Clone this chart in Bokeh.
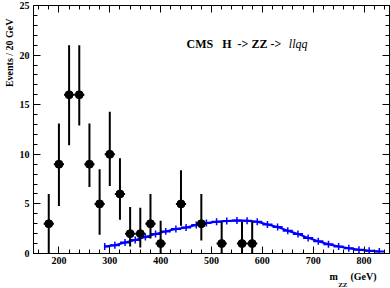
import numpy as np
from bokeh.plotting import figure
from bokeh.models import Range1d, LinearAxis, Label, Title, FixedTicker
from bokeh.embed import file_html
from bokeh.resources import INLINE

# ---- data ----
data_x = [180, 200, 220, 240, 260, 280, 300, 320, 340, 360, 380, 400, 440, 480, 520, 560, 580]
data_y = [3, 9, 16, 16, 9, 5, 10, 6, 2, 2, 3, 1, 5, 3, 1, 1, 1]
data_lo = [0, 4.8, 10.9, 12.9, 6.7, 1.9, 6.8, 3.4, 0.7, 0.6, 1.5, 0, 2.8, 1.3, 0, 0, 0]
data_hi = [6.0, 13.1, 21.0, 21.0, 13.1, 8.5, 14.3, 9.6, 4.7, 4.6, 6.0, 3.3, 8.4, 6.0, 3.2, 3.2, 3.2]
bin_half = 10

sig_x = [290, 310, 330, 350, 370, 390, 410, 430, 450, 470, 490, 510, 530, 550,
         570, 590, 610, 630, 650, 670, 690, 710, 730, 750, 770, 790, 810, 830]
sig_y = [0.7, 0.83, 1.1, 1.37, 1.67, 1.97, 2.23, 2.47, 2.63, 2.87, 3.07, 3.2, 3.27, 3.33,
         3.3, 3.2, 2.93, 2.67, 2.3, 1.97, 1.57, 1.23, 0.93, 0.7, 0.53, 0.37, 0.27, 0.2]
sig_err = 0.35

x_ticks = [200, 300, 400, 500, 600, 700, 800]
y_ticks = [0, 5, 10, 15, 20, 25]

FONT = "Liberation Serif"
NB = "\u00a0"

p = figure(width=390, height=288, output_backend="svg", toolbar_location=None,
           x_range=Range1d(150, 850), y_range=Range1d(0, 25),
           min_border_left=33, min_border_right=1, min_border_top=5, min_border_bottom=35,
           background_fill_color="white", border_fill_color="white")
p.outline_line_color = "black"
p.outline_line_width = 1
p.grid.visible = False

def style_axis(ax, ticks, minor, labels=True):
    ax.ticker = FixedTicker(ticks=ticks, minor_ticks=minor)
    ax.major_tick_in = 7
    ax.major_tick_out = 0
    ax.minor_tick_in = 4
    ax.minor_tick_out = 0
    ax.axis_line_color = "black"
    ax.major_tick_line_color = "black"
    ax.minor_tick_line_color = "black"
    ax.major_label_text_font = FONT
    ax.major_label_text_font_style = "bold"
    ax.major_label_text_font_size = "10px"
    ax.major_label_text_color = "black"
    if not labels:
        ax.major_label_text_alpha = 0
        ax.major_label_text_font_size = "1px"
        ax.major_label_standoff = 0

x_minor = list(range(160, 851, 20))
y_minor = list(range(0, 26, 1))
style_axis(p.xaxis[0], x_ticks, x_minor)
style_axis(p.yaxis[0], y_ticks, y_minor)
p.xaxis[0].major_label_standoff = 3
p.yaxis[0].major_label_standoff = 4

top_ax = LinearAxis()
right_ax = LinearAxis()
style_axis(top_ax, x_ticks, x_minor, labels=False)
style_axis(right_ax, y_ticks, y_minor, labels=False)
p.add_layout(top_ax, "above")
p.add_layout(right_ax, "right")

# ---- axis titles (side-panel titles, end-aligned like ROOT) ----
ytitle = Title(text="Events / 20 GeV", align="right", offset=13,
               text_font=FONT, text_font_style="bold", text_font_size="10px",
               text_color="black")
try:
    ytitle.standoff = 3
except Exception:
    pass
p.add_layout(ytitle, "left")

xtitle = Title(text="m" + NB * 5 + "(GeV)", align="right", offset=13,
               text_font=FONT, text_font_style="bold", text_font_size="10px",
               text_color="black")
try:
    xtitle.standoff = 4
except Exception:
    pass
p.add_layout(xtitle, "below")

xsub = Title(text="ZZ", align="right", offset=42,
             text_font=FONT, text_font_style="bold", text_font_size="7px",
             text_color="black")
try:
    xsub.standoff = -9
except Exception:
    pass
p.add_layout(xsub, "below")

# ---- signal (blue) ----
sx = np.array(sig_x, dtype=float)
sy = np.array(sig_y, dtype=float)
seg_x0 = sx - bin_half
seg_x0[0] = sx[0]
p.line(sx, sy, line_color="#0000ff", line_width=2)
p.segment(seg_x0, sy, sx + bin_half, sy, line_color="#0000ff", line_width=2)
p.segment(sx, sy - sig_err, sx, sy + sig_err, line_color="#0000ff", line_width=1.5)

# ---- data (black) ----
dx = np.array(data_x, dtype=float)
dy = np.array(data_y, dtype=float)
p.segment(dx, np.array(data_lo), dx, np.array(data_hi), line_color="black", line_width=2)
p.segment(dx - bin_half, dy, dx + bin_half, dy, line_color="black", line_width=2)
p.scatter(dx, dy, size=8, marker="circle", fill_color="black", line_color="black")

# ---- in-frame text ----
p.add_layout(Label(x=451, y=21.1, text="CMS" + NB * 3 + "H" + NB * 2 + "->" + NB + "ZZ" + NB + "->",
                   text_font=FONT, text_font_style="bold", text_font_size="12px",
                   text_color="black", text_baseline="alphabetic"))
p.add_layout(Label(x=652, y=21.1, text="llqq", text_font=FONT,
                   text_font_style="italic", text_font_size="12px", text_color="black",
                   text_baseline="alphabetic"))

open("out.html", "w").write(file_html(p, INLINE))
